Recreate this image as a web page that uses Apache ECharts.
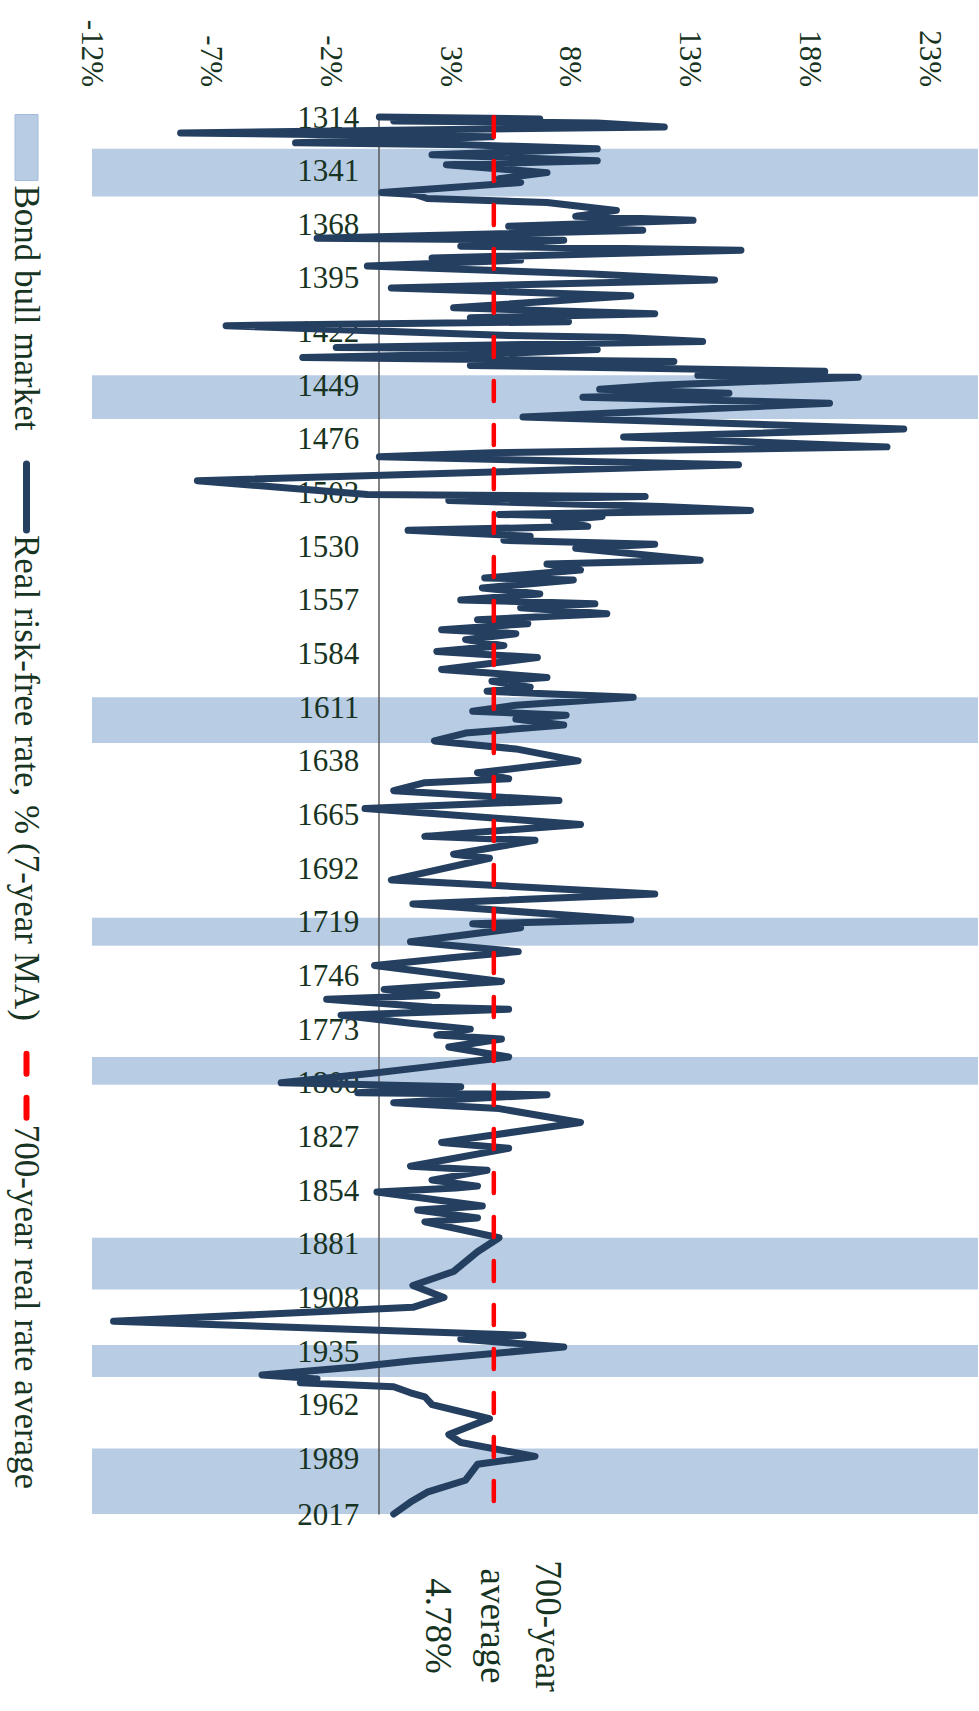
<!DOCTYPE html>
<html>
<head>
<meta charset="utf-8">
<script src="https://cdn.jsdelivr.net/npm/echarts@6/dist/echarts.min.js"></script>
<style>
  html, body { margin: 0; padding: 0; background: #fff; overflow: hidden; }
  /* chart is drawn landscape, then turned a quarter clockwise */
  #chart {
    position: absolute; left: 0; top: 0;
    width: 1711px; height: 979px;
    transform-origin: 0 0;
    transform: translateX(979px) rotate(90deg);
  }
</style>
</head>
<body>
<div id="chart"></div>
<script>
const FONT = 'Liberation Serif';
const TEXT = '#173322';

// year categories
const years = [];
for (let y = 1314; y <= 2017; y++) years.push(String(y));
const yearTicks = [1314, 1341, 1368, 1395, 1422, 1449, 1476, 1503, 1530, 1557, 1584, 1611,
  1638, 1665, 1692, 1719, 1746, 1773, 1800, 1827, 1854, 1881, 1908, 1935, 1962, 1989, 2017];
const valueTicks = [-12, -7, -2, 3, 8, 13, 18, 23];

// real risk-free rate, % (7-year MA) - turning points
const rateYears = [
  1314, 1315, 1316, 1317, 1319, 1322, 1324, 1327, 1328, 1330, 1333, 1336, 1338, 1342, 1345, 1347,
  1352, 1353, 1355, 1357, 1361, 1364, 1366, 1369, 1371, 1375, 1376, 1379, 1381, 1385, 1386, 1389,
  1393, 1396, 1400, 1404, 1410, 1413, 1415, 1417, 1419, 1424, 1425, 1427, 1430, 1431, 1433, 1435,
  1437, 1439, 1442, 1444, 1445, 1449, 1451, 1453, 1455, 1458, 1465, 1471, 1475, 1480, 1483, 1485,
  1489, 1497, 1504, 1505, 1507, 1510, 1512, 1514, 1515, 1517, 1520, 1522, 1525, 1527, 1529, 1531,
  1537, 1539, 1542, 1546, 1547, 1551, 1554, 1557, 1559, 1561, 1564, 1567, 1569, 1572, 1574, 1577,
  1580, 1583, 1586, 1592, 1596, 1598, 1601, 1603, 1606, 1610, 1613, 1615, 1617, 1620, 1624, 1628,
  1632, 1638, 1644, 1647, 1649, 1653, 1658, 1662, 1670, 1676, 1678, 1685, 1687, 1698, 1705, 1710,
  1718, 1720, 1722, 1729, 1734, 1737, 1741, 1749, 1753, 1756, 1758, 1762, 1763, 1766, 1770, 1773,
  1776, 1778, 1782, 1787, 1792, 1795, 1800, 1802, 1805, 1806, 1810, 1813, 1820, 1830, 1833, 1842,
  1844, 1849, 1852, 1853, 1855, 1862, 1864, 1868, 1870, 1878, 1885, 1895, 1902, 1908, 1913, 1920,
  1927, 1929, 1933, 1940, 1943, 1947, 1949, 1951, 1953, 1956, 1958, 1962, 1969, 1977, 1981, 1988,
  1992, 2000, 2006, 2011, 2017
];
const rateValues = [
  0.0, 6.7, 0.6, 9.1, 11.9, -8.3, 4.7, -3.5, 3.6, 9.1, 2.2, 9.1, 2.8, 7.0, 5.0, 5.9,
  0.1, 1.5, 2.0, 7.0, 9.9, 8.2, 13.1, 5.4, 11.0, -2.6, 7.7, 3.4, 15.1, 2.2, 5.9, -0.5,
  8.9, 14.0, 0.5, 10.5, 3.1, 11.5, 3.8, 7.9, -6.4, 5.4, 10.2, 13.5, -1.8, 9.1, 5.1, -3.2,
  12.3, 3.8, 18.6, 13.3, 20.0, 11.6, 9.2, 14.6, 8.5, 18.8, 6.0, 21.9, 10.2, 21.2, 4.7, 0.0,
  15.0, -7.6, -0.5, 11.1, 2.9, 11.8, 15.5, 5.0, 9.3, 7.3, 8.7, 1.2, 6.3, 5.2, 11.5, 8.2,
  13.4, 7.0, 8.4, 4.4, 8.1, 4.3, 6.7, 3.4, 9.0, 5.9, 9.5, 4.1, 6.2, 2.6, 5.7, 3.6,
  5.2, 2.4, 6.6, 2.6, 7.0, 4.7, 6.3, 4.5, 10.6, 5.7, 3.9, 7.8, 5.7, 7.7, 3.6, 2.3,
  5.7, 8.3, 4.1, 5.4, 1.9, 0.6, 7.5, -0.6, 8.4, 1.9, 6.5, 3.1, 4.6, 0.5, 11.5, 1.4,
  10.5, 3.9, 5.9, 1.3, 5.8, 3.1, -0.2, 5.1, 0.2, 2.4, -2.2, 2.2, 5.4, -1.6, 1.3, 3.8,
  2.4, 5.1, 2.9, 5.4, 2.0, -0.1, -4.1, 3.4, -0.9, 7.0, 0.6, 5.0, 8.4, 2.6, 5.4, 1.3,
  4.5, 2.2, 4.1, 3.2, -0.1, 4.3, 1.6, 4.1, 1.9, 5.0, 4.1, 3.1, 1.4, 2.7, 1.4, -11.1,
  6.0, 3.4, 7.7, 1.3, -1.0, -4.9, -2.6, -3.3, 0.6, 1.3, 1.9, 2.2, 4.6, 2.9, 3.4, 6.5,
  4.1, 3.6, 2.0, 1.3, 0.6
];

// 700-year average
const avgRate = 4.78;

// bond bull market periods
const bullStart = [1330, 1444, 1606, 1717, 1787, 1878, 1932, 1984];
const bullEnd   = [1354, 1466, 1629, 1731, 1801, 1904, 1948, 2017];

const chart = echarts.init(document.getElementById('chart'), null, {
  renderer: 'svg', width: 1711, height: 979
});

const option = {
  animation: false,
  grid: { left: 117, right: 197, top: 1, bottom: 92 },
  legend: {
    left: 109,
    top: 930,
    itemWidth: 66,
    itemHeight: 23,
    itemGap: 30,
    textStyle: { fontFamily: FONT, fontSize: 35, color: TEXT },
    data: [
      { name: 'Bond bull market', icon: 'rect',
        itemStyle: { color: '#b8cce4', borderColor: '#a3bcdc', borderWidth: 1 } },
      // hide the circle that the line icon gets by default
      { name: 'Real risk-free rate, % (7-year MA)', itemStyle: { opacity: 0 },
        lineStyle: { width: 7 } },
      { name: '700-year real rate average', itemStyle: { opacity: 0 },
        lineStyle: { width: 6 } }
    ]
  },
  xAxis: {
    type: 'category',
    data: years,
    boundaryGap: false,
    z: 5,
    axisLine: { onZero: false, lineStyle: { color: '#595959', width: 1.5 } },
    axisTick: { show: false },
    splitLine: { show: false },
    axisLabel: {
      rotate: 90,
      margin: 20,
      interval: (idx, val) => yearTicks.indexOf(+val) >= 0,
      fontFamily: FONT,
      fontSize: 31,
      color: TEXT
    }
  },
  yAxis: {
    type: 'value',
    min: -12,
    max: 25,
    interval: 5,
    axisLine: { show: false },
    axisTick: { show: false },
    splitLine: { show: false },
    axisLabel: {
      margin: 30,
      fontFamily: FONT,
      fontSize: 31,
      color: TEXT,
      formatter: v => valueTicks.indexOf(v) >= 0 ? v + '%' : ''
    }
  },
  series: [
    {
      name: 'Bond bull market',
      type: 'line',
      data: [],
      z: 1,
      itemStyle: { color: '#b8cce4' },
      markArea: {
        silent: true,
        itemStyle: { color: '#b8cce4', opacity: 1 },
        data: bullStart.map((s, i) => [{ xAxis: String(s) }, { xAxis: String(bullEnd[i]) }])
      }
    },
    {
      name: 'Real risk-free rate, % (7-year MA)',
      type: 'line',
      z: 10,
      symbol: 'none',
      data: rateYears.map((y, i) => [String(y), rateValues[i]]),
      itemStyle: { color: '#243f60' },
      lineStyle: { color: '#243f60', width: 7, join: 'round', cap: 'round' }
    },
    {
      name: '700-year real rate average',
      type: 'line',
      z: 11,
      symbol: 'none',
      data: [[years[0], avgRate], [years[years.length - 1], avgRate]],
      itemStyle: { color: '#ff0000' },
      lineStyle: { color: '#ff0000', width: 4.5, type: [20, 24], cap: 'round' },
      endLabel: {
        show: true,
        formatter: '700-year\naverage\n' + avgRate + '%',
        distance: 112,
        align: 'center',
        verticalAlign: 'middle',
        fontFamily: FONT,
        fontSize: 37,
        lineHeight: 55,
        color: TEXT
      }
    }
  ]
};

chart.setOption(option);

// move the year axis (line and labels) up to the 0% level
const zeroPx = chart.convertToPixel({ yAxisIndex: 0 }, 0);
const bottomPx = chart.convertToPixel({ yAxisIndex: 0 }, -12);
chart.setOption({ xAxis: { offset: zeroPx - bottomPx } });
</script>
</body>
</html>
